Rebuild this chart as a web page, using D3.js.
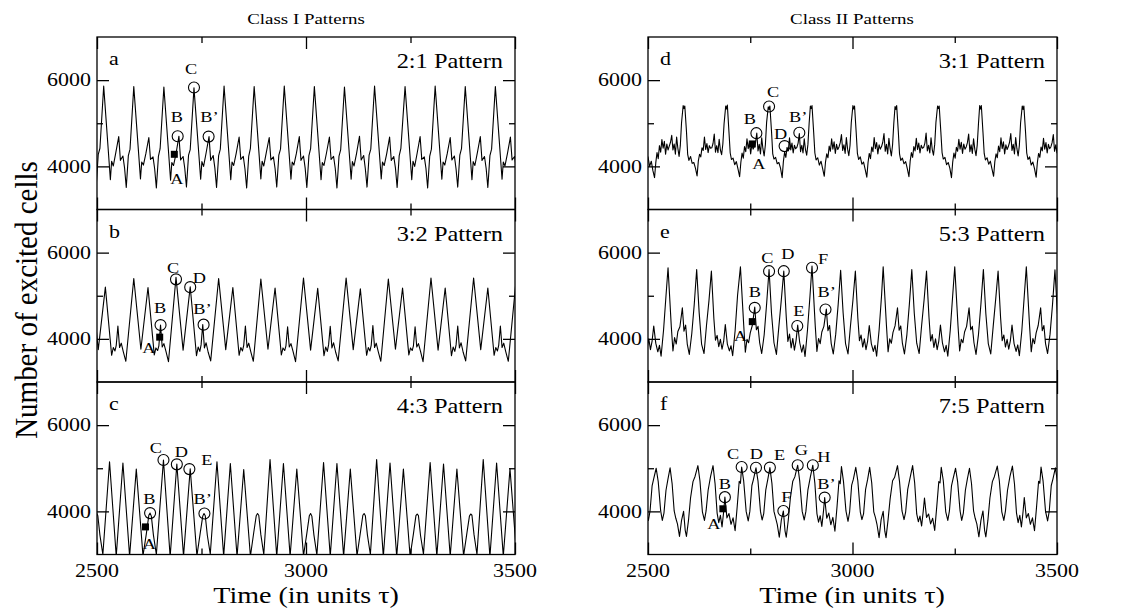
<!DOCTYPE html>
<html>
<head>
<meta charset="utf-8">
<script src="https://cdnjs.cloudflare.com/ajax/libs/d3/7.8.5/d3.min.js"></script>
<style>
  body { margin: 0; background: #fff; }
  svg { display: block; }
  text { font-family: "Liberation Serif", "Times New Roman", serif; fill: #000; }
</style>
</head>
<body>
<svg width="1133" height="614"></svg>
<script>
var timeTicks = [2500, 3000, 3500];
var timeMinor = [2750, 3250];
var countTicks = [4000, 6000];
var countMinor = [5000];

// each series is stored as cycles: [cycle start, values at the sample offsets]
var offsetsA = [0, 16, 19, 23, 29, 36, 40, 46, 50, 54, 59, 63];
var cyclesA = [
  [2444, 5850, 3700, 4100, 4020, 4300, 4680, 4150, 4230, 3950, 3520, 4280, 4420],
  [2516, 5860, 3690, 4120, 4010, 4320, 4690, 4140, 4240, 3960, 3510, 4250, 4400],
  [2588, 5850, 3710, 4100, 4030, 4300, 4670, 4160, 4220, 3940, 3500, 4240, 4410],
  [2660, 5840, 3680, 4090, 4020, 4290, 4700, 4150, 4230, 3950, 3520, 4260, 4390],
  [2732, 5820, 3700, 4110, 4000, 4310, 4690, 4140, 4250, 3960, 3510, 4250, 4400],
  [2804, 5860, 3690, 4100, 4020, 4300, 4680, 4160, 4230, 3940, 3500, 4240, 4420],
  [2876, 5850, 3710, 4120, 4010, 4320, 4670, 4150, 4220, 3950, 3520, 4260, 4400],
  [2948, 5860, 3700, 4100, 4030, 4300, 4690, 4140, 4240, 3960, 3510, 4250, 4410],
  [3020, 5850, 3690, 4090, 4020, 4310, 4680, 4160, 4230, 3950, 3500, 4240, 4390],
  [3092, 5840, 3700, 4110, 4010, 4300, 4700, 4150, 4250, 3940, 3520, 4260, 4400],
  [3164, 5860, 3710, 4100, 4020, 4290, 4680, 4140, 4230, 3960, 3510, 4250, 4420],
  [3237, 5850, 3690, 4120, 4000, 4310, 4690, 4160, 4220, 3950, 3500, 4240, 4400],
  [3309, 5860, 3700, 4100, 4030, 4300, 4670, 4150, 4240, 3940, 3520, 4260, 4410],
  [3381, 5850, 3690, 4110, 4020, 4320, 4690, 4140, 4230, 3950, 3510, 4250, 4400],
  [3453, 5850, 3700, 4100, 4010, 4300, 4680, 4150, 4230, 3960, 3520, 4250, 4400]
];

var offsetsB = [0, 17, 34, 49, 53, 57, 60, 64, 68, 72, 77, 83];
var cyclesB = [
  [2486, 5390, 3750, 5200, 3620, 3800, 3720, 3850, 4300, 3800, 3900, 3700, 3480],
  [2588, 5400, 3760, 5190, 3630, 3790, 3730, 3840, 4320, 3810, 3890, 3710, 3470],
  [2689, 5430, 3740, 5210, 3610, 3810, 3710, 3860, 4330, 3790, 3910, 3690, 3490],
  [2791, 5400, 3750, 5190, 3620, 3800, 3720, 3850, 4300, 3800, 3900, 3700, 3480],
  [2892, 5390, 3760, 5180, 3630, 3790, 3730, 3840, 4280, 3810, 3890, 3710, 3470],
  [2994, 5410, 3740, 5170, 3610, 3810, 3710, 3860, 4290, 3790, 3910, 3690, 3490],
  [3096, 5410, 3750, 5160, 3620, 3800, 3720, 3850, 4310, 3800, 3900, 3700, 3480],
  [3197, 5390, 3760, 5180, 3630, 3790, 3730, 3840, 4280, 3810, 3890, 3710, 3470],
  [3299, 5410, 3740, 5180, 3610, 3810, 3710, 3860, 4300, 3790, 3910, 3690, 3490],
  [3401, 5410, 3750, 5180, 3620, 3800, 3720, 3850, 4300, 3800, 3900, 3700, 3480],
  [3503, 5400, 3750, 5200, 3620, 3800, 3720, 3850, 4300, 3800, 3900, 3700, 3480]
];

var offsetsC = [0, 16, 32, 48, 64, 80, 88, 94, 97, 100, 105, 112];
var cyclesC = [
  [2402, 5150, 2960, 5110, 2960, 4980, 2970, 3500, 3900, 3960, 3900, 3450, 3000],
  [2530, 5150, 2960, 5120, 2960, 4980, 2970, 3480, 3910, 3960, 3890, 3450, 3000],
  [2659, 5190, 2950, 5100, 2960, 4990, 2970, 3500, 3890, 3950, 3900, 3440, 3010],
  [2787, 5150, 2960, 5110, 2950, 4970, 2960, 3510, 3900, 3950, 3910, 3460, 3000],
  [2914, 5200, 2950, 5110, 2960, 4980, 2970, 3490, 3900, 3950, 3890, 3450, 2990],
  [3042, 5130, 2960, 5110, 2960, 4980, 2970, 3500, 3910, 3950, 3900, 3450, 3000],
  [3169, 5200, 2950, 5120, 2950, 4980, 2960, 3480, 3900, 3940, 3900, 3440, 3010],
  [3297, 5130, 2960, 5100, 2960, 4980, 2970, 3500, 3890, 3940, 3910, 3460, 3000],
  [3424, 5200, 2950, 5120, 2960, 4990, 2970, 3500, 3900, 3950, 3900, 3450, 3000]
];

var offsetsD = [0, 2, 4, 8, 11, 14, 18, 22, 26, 30, 34, 37, 40, 43, 46, 49, 52, 55, 58, 61, 64, 67, 70, 73, 76, 79, 82, 85, 88, 91, 94, 97, 100];
var cyclesD = [
  [2482, 5390,5320,5400,4780,4320,4180,4220,4000,4120,3900,3740,4080,4320,4180,4480,4330,4620,4420,4580,4280,4520,4380,4470,4560,4720,4380,4520,4280,4680,4420,4230,4480,5010],
  [2586, 5410,5340,5400,4820,4280,4140,4230,4070,4090,3960,3780,4120,4280,4220,4430,4370,4680,4390,4530,4320,4480,4420,4430,4530,4750,4330,4480,4320,4630,4380,4270,4520,4990],
  [2690, 5400,5330,5420,4790,4310,4160,4190,4040,4110,3940,3760,4090,4310,4190,4460,4340,4640,4410,4560,4290,4520,4400,4460,4560,4770,4360,4510,4290,4660,4410,4240,4500,5020],
  [2794, 5380,5320,5400,4810,4290,4170,4210,4060,4090,3960,3740,4110,4330,4210,4440,4360,4660,4380,4540,4310,4490,4410,4440,4540,4760,4340,4490,4310,4640,4390,4260,4510,5000],
  [2897, 5400,5340,5410,4800,4310,4150,4200,4030,4120,3950,3770,4100,4290,4200,4470,4350,4640,4400,4570,4300,4510,4390,4450,4550,4740,4370,4500,4300,4670,4400,4250,4490,5010],
  [3001, 5410,5330,5400,4790,4300,4160,4220,4050,4100,3930,3750,4090,4300,4180,4450,4340,4670,4410,4550,4290,4500,4400,4460,4560,4760,4350,4510,4290,4650,4410,4240,4500,5000],
  [3104, 5390,5320,5410,4810,4290,4140,4190,4060,4110,3950,3760,4120,4320,4210,4460,4360,4650,4390,4540,4310,4490,4420,4440,4540,4770,4360,4490,4310,4660,4390,4260,4510,5020],
  [3208, 5400,5340,5400,4800,4320,4170,4210,4040,4090,3960,3740,4100,4310,4190,4440,4350,4630,4400,4560,4300,4520,4400,4450,4550,4750,4340,4500,4300,4640,4400,4250,4500,4990],
  [3311, 5410,5330,5410,4790,4300,4150,4200,4050,4120,3940,3770,4110,4290,4200,4470,4340,4660,4410,4570,4290,4500,4390,4460,4560,4760,4370,4510,4290,4670,4410,4240,4490,5010],
  [3415, 5400,5320,5400,4810,4310,4160,4220,4030,4100,3950,3750,4090,4300,4210,4450,4360,4650,4400,4550,4310,4510,4410,4450,4550,4740,4350,4500,4310,4650,4400,4250,4500,5000]
];

var offsetsE = [0, 8, 12, 16, 20, 24, 29, 35, 39, 43, 47, 52, 58, 64, 70, 76, 82, 88, 94, 100, 106, 112, 116, 120, 124, 128, 132, 136, 140, 145, 150, 154, 158, 164, 170];
var cyclesE = [
  [2374, 5650,4300,3700,4000,3900,4150,4300,4720,4200,4300,3900,3650,4100,4800,5600,4600,3900,3650,4300,4900,5570,4500,3950,4100,3800,4000,3750,3950,4300,3900,3700,3850,3600,4200,5000],
  [2549, 5650,4280,3720,4030,3880,4170,4280,4720,4180,4320,3880,3640,4120,4790,5610,4620,3880,3660,4310,4880,5570,4480,3970,4080,3820,3990,3760,3940,4330,3880,3720,3840,3610,4190,5010],
  [2726, 5670,4320,3690,3990,3910,4140,4310,4740,4210,4290,3910,3660,4090,4810,5610,4590,3910,3640,4290,4910,5570,4510,3940,4110,3790,4010,3740,3960,4320,3910,3690,3860,3590,4210,4990],
  [2901, 5690,4290,3710,4010,3890,4160,4290,4690,4190,4310,3890,3650,4110,4800,5590,4610,3890,3650,4300,4890,5570,4490,3960,4090,3810,4000,3750,3950,4310,3890,3710,3850,3600,4200,5000],
  [3075, 5670,4310,3700,4000,3900,4150,4300,4720,4200,4300,3900,3650,4100,4800,5610,4600,3900,3660,4310,4900,5570,4500,3950,4100,3800,4000,3750,3950,4320,3900,3700,3850,3600,4200,5010],
  [3250, 5670,4300,3720,3990,3910,4160,4290,4720,4210,4290,3910,3640,4100,4810,5610,4590,3890,3650,4290,4910,5570,4500,3960,4090,3810,3990,3760,3960,4320,3890,3710,3860,3610,4190,5000],
  [3425, 5670,4290,3700,4010,3890,4140,4310,4720,4190,4310,3890,3660,4110,4790,5600,4600,3900,3650,4300,4900,5570,4500,3950,4100,3800,4000,3750,3950,4320,3900,3700,3850,3600,4200,5000]
];

var offsetsF = [0, 5, 10, 15, 20, 25, 30, 35, 38, 41, 46, 52, 57, 61, 66, 70, 76, 81, 87, 91, 95, 100, 105, 110, 115, 120, 124, 128, 133, 138, 143, 147, 150, 155, 160, 166, 171, 178, 183, 189, 194, 198, 203, 209, 215, 220, 225, 229, 233, 237, 241];
var cyclesF = [
  [2444, 4300,3860,3940,3720,3840,3560,4120,4690,4660,5020, 4710,3990,3790,4010,4590,4760,5000, 4690,4010,3790,3960,4490,4760,5010, 4640,4010,3840,3710,3420,3790,4000, 3560,3420,3790,4310,4690,4810,5060, 4710,3990,3790,4010,4490,4810,5060, 4640,3960,3740,3910,3640,3990],
  [2688, 4330,3850,3950,3700,3850,3550,4100,4700,4650,5030, 4700,4000,3780,4000,4600,4750,5010, 4700,4000,3800,3950,4500,4750,5015, 4650,4000,3850,3700,3400,3800,4010, 3550,3400,3800,4300,4700,4800,5070, 4700,4000,3800,4000,4500,4800,5070, 4650,3950,3750,3900,3650,4000],
  [2932, 4320,3840,3960,3690,3860,3540,4090,4710,4640,5040, 4690,4010,3770,3990,4610,4740,5020, 4710,3990,3810,3940,4510,4740,5020, 4660,3990,3860,3690,3390,3810,4000, 3540,3390,3810,4290,4710,4790,5060, 4690,4010,3810,3990,4510,4790,5060, 4660,3940,3760,3890,3660,4010],
  [3176, 4310,3860,3940,3710,3840,3560,4110,4690,4660,5020, 4710,3990,3790,4010,4590,4760,5000, 4690,4010,3790,3960,4490,4760,5000, 4640,4010,3840,3710,3410,3790,4010, 3560,3410,3790,4310,4690,4810,5050, 4710,3990,3790,4010,4490,4810,5050, 4640,3960,3740,3910,3640,3990],
  [3420, 4320,3850,3950,3700,3850,3550,4100,4700,4650,5030, 4700,4000,3780,4000,4600,4750,5010, 4700,4000,3800,3950,4500,4750,5015, 4650,4000,3850,3700,3400,3800,4010, 3550,3400,3800,4300,4700,4800,5070, 4700,4000,3800,4000,4500,4800,5070, 4650,3950,3750,3900,3650,4000]
];

// annotations: filled square A, open circles on the trace, letter labels
var squareA = [2685, 4280];
var circlesA = [[2693, 4700], [2732, 5830], [2767, 4690]];
var labelsA = [["A", 2691, 3715], ["B", 2691, 5140], ["C", 2725, 6250], ["B’", 2769, 5150]];

var squareB = [2650, 4040];
var circlesB = [[2652, 4320], [2689, 5380], [2723, 5200], [2755, 4330]];
var labelsB = [["A", 2624, 3790], ["B", 2651, 4710], ["C", 2682, 5650], ["D", 2745, 5400], ["B’", 2752, 4680]];

var squareC = [2616, 3640];
var circlesC = [[2627, 3960], [2659, 5190], [2691, 5090], [2721, 4980], [2757, 3950]];
var labelsC = [["A", 2625, 3250], ["B", 2625, 4290], ["C", 2641, 5460], ["D", 2702, 5380], ["E", 2763, 5190], ["B’", 2753, 4290]];

var squareD = [2755, 4520];
var circlesD = [[2765, 4770], [2796, 5390], [2834, 4470], [2870, 4780]];
var labelsD = [["A", 2771, 4050], ["B", 2749, 5100], ["C", 2806, 5730], ["D", 2824, 4750], ["B’", 2867, 5140]];

var squareE = [2755, 4400];
var circlesE = [[2761, 4720], [2796, 5570], [2832, 5570], [2865, 4300], [2901, 5650], [2934, 4680]];
var labelsE = [["A", 2726, 4060], ["B", 2761, 5090], ["C", 2792, 5880], ["D", 2842, 5960], ["E", 2869, 4640], ["F", 2928, 5845], ["B’", 2937, 5090]];

var squareF = [2683, 4060];
var circlesF = [[2688, 4330], [2729, 5030], [2764, 5010], [2798, 5015], [2831, 4010], [2866, 5070], [2903, 5070], [2932, 4320]];
var labelsF = [["A", 2661, 3700], ["B", 2688, 4640], ["C", 2708, 5340], ["D", 2765, 5340], ["E", 2822, 5300], ["F", 2838, 4330], ["G", 2875, 5420], ["H", 2930, 5260], ["B’", 2936, 4640]];

var panels = [
  { letter: "a", name: "2:1 Pattern", col: 0, row: 0, offsets: offsetsA, cycles: cyclesA, square: squareA, circles: circlesA, labels: labelsA },
  { letter: "b", name: "3:2 Pattern", col: 0, row: 1, offsets: offsetsB, cycles: cyclesB, square: squareB, circles: circlesB, labels: labelsB },
  { letter: "c", name: "4:3 Pattern", col: 0, row: 2, offsets: offsetsC, cycles: cyclesC, square: squareC, circles: circlesC, labels: labelsC },
  { letter: "d", name: "3:1 Pattern", col: 1, row: 0, offsets: offsetsD, cycles: cyclesD, square: squareD, circles: circlesD, labels: labelsD },
  { letter: "e", name: "5:3 Pattern", col: 1, row: 1, offsets: offsetsE, cycles: cyclesE, square: squareE, circles: circlesE, labels: labelsE },
  { letter: "f", name: "7:5 Pattern", col: 1, row: 2, offsets: offsetsF, cycles: cyclesF, square: squareF, circles: circlesF, labels: labelsF }
];

var unfold = function(offsets, cycles) {
  let pts = [];
  cycles.forEach(function(row) {
    offsets.forEach(function(dt, i) {
      pts.push([row[0] + dt, row[i + 1]]);
    });
  });
  return pts;
};

var svg = d3.select("svg");

// the reference type is a bit wider than normal Times
var stretch = 1.22;

var colLeft = [97, 648];
var colWidth = [418, 409];
var plotTop = 37;
var panelH = 172.5;

var addText = function(parent, x, y, str, size, anchor, baseline) {
  let t = parent.append("text")
    .attr("transform", "translate(" + x + "," + y + ") scale(" + stretch + ",1)")
    .attr("text-anchor", anchor || "start")
    .style("font-size", size + "px")
    .text(str);
  if (baseline) t.attr("dominant-baseline", baseline);
  return t;
};

panels.forEach(function(p) {
  let w = colWidth[p.col];
  let h = panelH;
  let g = svg.append("g")
    .attr("transform", "translate(" + colLeft[p.col] + "," + (plotTop + p.row * h) + ")");

  let x = d3.scaleLinear().domain([2500, 3500]).range([0, w]);
  let y = d3.scaleLinear().domain([3000, 7000]).range([h, 0]);

  let clipId = "clip-" + p.letter;
  g.append("clipPath").attr("id", clipId)
    .append("rect").attr("width", w).attr("height", h);

  let line = d3.line()
    .x(function(d) { return x(d[0]); })
    .y(function(d) { return y(d[1]); });

  g.append("path")
    .datum(unfold(p.offsets, p.cycles))
    .attr("clip-path", "url(#" + clipId + ")")
    .attr("d", line)
    .attr("fill", "none")
    .attr("stroke", "#000")
    .attr("stroke-width", 1.1)
    .attr("stroke-linejoin", "round");

  // inward ticks on all four sides
  let addTicks = function(axis, vals, size, tx, ty) {
    let a = g.append("g")
      .attr("transform", "translate(" + tx + "," + ty + ")")
      .call(axis.tickValues(vals).tickSize(-size).tickSizeOuter(0).tickFormat(""));
    a.select(".domain").remove();
    a.selectAll("line").attr("stroke", "#000").attr("stroke-width", 1.3);
  };
  addTicks(d3.axisBottom(x), timeTicks, 12, 0, h);
  addTicks(d3.axisBottom(x), timeMinor, 6, 0, h);
  addTicks(d3.axisTop(x), timeTicks, 12, 0, 0);
  addTicks(d3.axisTop(x), timeMinor, 6, 0, 0);
  addTicks(d3.axisLeft(y), countTicks, 12, 0, 0);
  addTicks(d3.axisLeft(y), countMinor, 6, 0, 0);
  addTicks(d3.axisRight(y), countTicks, 12, w, 0);
  addTicks(d3.axisRight(y), countMinor, 6, w, 0);

  g.append("rect")
    .attr("width", w)
    .attr("height", h)
    .attr("fill", "none")
    .attr("stroke", "#000")
    .attr("stroke-width", 1.3);

  countTicks.forEach(function(v) {
    addText(g, -6, y(v), d3.format("d")(v), 18, "end", "central");
  });
  if (p.row == 2) {
    timeTicks.forEach(function(v) {
      addText(g, x(v), h + 22, d3.format("d")(v), 18, "middle");
    });
  }

  addText(g, 12, 28, p.letter, 18, "start");
  addText(g, w - 12, 31, p.name, 20, "end");

  // markers
  g.append("rect")
    .attr("x", x(p.square[0]) - 3.5)
    .attr("y", y(p.square[1]) - 3.5)
    .attr("width", 7)
    .attr("height", 7)
    .attr("fill", "#000");

  g.selectAll("circle.mark")
    .data(p.circles)
    .enter().append("circle")
    .attr("class", "mark")
    .attr("cx", function(d) { return x(d[0]); })
    .attr("cy", function(d) { return y(d[1]); })
    .attr("r", 5.5)
    .attr("fill", "none")
    .attr("stroke", "#000")
    .attr("stroke-width", 1.1);

  p.labels.forEach(function(d) {
    addText(g, x(d[1]), y(d[2]), d[0], 15, "middle", "central");
  });
});

// titles
addText(svg, 306, 24, "Class I Patterns", 15.5, "middle");
addText(svg, 852, 24, "Class II Patterns", 15.5, "middle");
addText(svg, 306, 603, "Time (in units τ)", 23, "middle");
addText(svg, 852, 603, "Time (in units τ)", 23, "middle");

svg.append("text")
  .attr("transform", "translate(37,300) rotate(-90) scale(1,1.08)")
  .attr("text-anchor", "middle")
  .style("font-size", "29px")
  .text("Number of excited cells");
</script>
</body>
</html>
